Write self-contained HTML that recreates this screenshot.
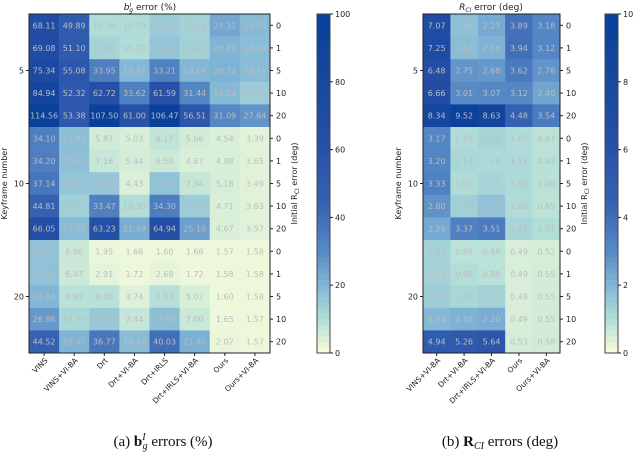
<!DOCTYPE html>
<html><head><meta charset="utf-8"><style>
body{margin:0;background:#fff;font-family:"Liberation Sans","DejaVu Sans",sans-serif}
svg text{font-family:"DejaVu Sans","Liberation Sans",sans-serif}
</style></head><body>
<svg id="s" width="640" height="460"></svg>
<script>
const colsA=["VINS","VINS+VI-BA","Drt","Drt+VI-BA","Drt+IRLS","Drt+IRLS+VI-BA","Ours","Ours+VI-BA"];
const colsB=["VINS+VI-BA","Drt+VI-BA","Drt+IRLS+VI-BA","Ours","Ours+VI-BA"];
const rowTicks=["0","1","5","10","20","0","1","5","10","20","0","1","5","10","20"];
const keyTicks=[[2,"5"],[7,"10"],[12,"20"]];
const valsA=[
[68.11,49.89,10.39,10.39,14.66,13.19,23.31,19.09],
[69.08,51.10,12.61,10.29,16.50,13.43,20.49,18.59],
[75.34,55.08,33.95,19.47,33.21,19.64,20.72,18.41],
[84.94,52.32,62.72,33.62,61.59,31.44,19.14,14.62],
[114.56,53.38,107.50,61.00,106.47,56.51,31.09,27.64],
[34.10,17.83,5.87,5.03,8.17,5.66,4.54,3.39],
[34.20,17.42,7.16,5.44,6.50,4.67,4.98,3.65],
[37.14,16.11,16.13,4.43,17.27,7.34,5.18,3.49],
[44.81,13.87,33.47,10.30,34.30,14.59,4.71,3.63],
[66.05,18.80,63.23,21.99,64.94,25.10,4.67,3.57],
[16.97,6.80,1.95,1.66,1.60,1.66,1.57,1.58],
[17.13,6.47,2.91,1.72,2.68,1.72,1.58,1.58],
[20.04,8.89,9.20,3.74,9.57,5.02,1.60,1.58],
[26.86,11.75,15.23,7.44,17.88,7.00,1.65,1.57],
[44.52,20.42,36.77,18.43,40.03,21.40,2.02,1.57]];
const valsB=[
[7.07,1.76,2.27,3.89,3.18],[7.25,1.82,2.06,3.94,3.12],[6.48,2.75,2.68,3.62,2.78],
[6.66,3.01,3.07,3.12,2.40],[8.34,9.52,8.63,4.48,3.54],[3.17,1.07,1.26,1.07,0.87],
[3.20,1.17,1.10,1.11,0.92],[3.33,1.05,1.25,1.10,0.90],[2.80,1.38,1.69,1.06,0.85],
[2.29,3.37,3.51,1.23,1.01],[1.31,0.89,0.88,0.49,0.52],[1.29,0.99,0.89,0.49,0.55],
[1.41,1.18,1.29,0.49,0.55],[1.94,2.10,2.20,0.49,0.55],[4.94,5.26,5.64,0.53,0.58]];
const cbA=[0,20,40,60,80,100], cbB=[0,2,4,6,8,10];
const stops=[[0,[247,252,220]],[0.05,[215,238,216]],[0.1,[178,222,216]],[0.2,[130,182,214]],[0.3,[88,138,198]],[0.45,[52,96,178]],[0.65,[36,78,166]],[1,[8,64,154]]];
function cmap(t){t=Math.max(0,Math.min(1,t));for(let i=1;i<stops.length;i++){if(t<=stops[i][0]){const a=stops[i-1],b=stops[i],f=(t-a[0])/(b[0]-a[0]);return`rgb(${a[1].map((v,k)=>Math.round(v+(b[1][k]-v)*f)).join(",")})`;}}return"rgb(8,64,154)";}
const S=document.getElementById('s'),NS="http://www.w3.org/2000/svg";
function el(t,a,txt){const e=document.createElementNS(NS,t);for(const k in a)e.setAttribute(k,a[k]);if(txt!=null)e.textContent=txt;S.appendChild(e);return e;}
function heat(cfg){
 const {x0,x1,y0,y1,cols,vals,vmax,cb,cbx,tag}=cfg;
 const cw=(x1-x0)/cols.length,rh=(y1-y0)/vals.length;
 const X=i=>x0+i*cw,Y=j=>y0+j*rh;
 vals.forEach((row,j)=>row.forEach((v,i)=>{
  const r=el('rect',{x:X(i),y:Y(j),width:cw+0.3,height:rh+0.3,fill:cmap(v/vmax)});
  
  const t=el('text',{x:X(i)+cw/2,y:Y(j)+rh/2+3,'font-size':8,'text-anchor':'middle',fill:'#bdbdbd'},v.toFixed(2));
  
 }));
 el('rect',{x:x0,y:y0,width:x1-x0,height:y1-y0,fill:'none',stroke:'#222','stroke-width':1});
 keyTicks.forEach(([j,l])=>{el('line',{x1:x0-3,x2:x0,y1:Y(j)+rh/2,y2:Y(j)+rh/2,stroke:'#222'});
  const t=el('text',{x:x0-5,y:Y(j)+rh/2+3,'font-size':8,'text-anchor':'end',fill:'#222'},l);});
 const yl=el('text',{transform:`translate(${x0-22},${(y0+y1)/2}) rotate(-90)`,'font-size':8,'text-anchor':'middle',fill:'#222'},'Keyframe number');
 
 rowTicks.forEach((l,j)=>{el('line',{x1:x1,x2:x1+3,y1:Y(j)+rh/2,y2:Y(j)+rh/2,stroke:'#222'});
  const t=el('text',{x:x1+6,y:Y(j)+rh/2+3,'font-size':8,fill:'#222'},l);});
 const rl=el('text',{transform:`translate(${x1+27},${(y0+y1)/2}) rotate(-90)`,'font-size':8,'text-anchor':'middle',fill:'#222'});
 rl.innerHTML='Initial R<tspan font-size="6" dy="2">CI</tspan><tspan dy="-2"> error (deg)</tspan>';
 
 cols.forEach((c,i)=>{const cx=X(i)+cw/2;el('line',{x1:cx,x2:cx,y1:y1,y2:y1+3,stroke:'#222'});
  const t=el('text',{transform:`translate(${cx+4},${y1+8}) rotate(-45)`,'font-size':7.5,'text-anchor':'end',fill:'#222'},c);
  });
 const n=60,h=(y1-y0)/n;
 for(let k=0;k<n;k++)el('rect',{x:cbx,y:y1-(k+1)*h,width:13,height:h+0.4,fill:cmap((k+0.5)/n)});
 const cbr=el('rect',{x:cbx,y:y0,width:13,height:y1-y0,fill:'none',stroke:'#444'});
 
 cb.forEach(v=>{const yy=y1-(v/vmax)*(y1-y0);el('line',{x1:cbx+13,x2:cbx+16,y1:yy,y2:yy,stroke:'#222'});
  const t=el('text',{x:cbx+18,y:yy+3,'font-size':8,fill:'#222'},v);});
}
heat({x0:29,x1:270,y0:14,y1:353,cols:colsA,vals:valsA,vmax:100,cb:cbA,cbx:317,tag:'a'});
heat({x0:423,x1:560,y0:14,y1:353,cols:colsB,vals:valsB,vmax:10,cb:cbB,cbx:605,tag:'b'});
let t1=el('text',{x:150,y:10,'font-size':9,'text-anchor':'middle',fill:'#222'});t1.innerHTML='<tspan font-style="italic">b</tspan><tspan font-size="6" dy="-3" font-style="italic">I</tspan><tspan font-size="6" dy="5" dx="-2" font-style="italic">g</tspan><tspan dy="-2"> error (%)</tspan>';

let t2=el('text',{x:491,y:10,'font-size':9,'text-anchor':'middle',fill:'#222'});t2.innerHTML='<tspan font-style="italic">R</tspan><tspan font-size="6" dy="2" font-style="italic">CI</tspan><tspan dy="-2"> error (deg)</tspan>';

let c1=el('text',{x:163,y:446,'font-size':15,'text-anchor':'middle',fill:'#111'});
c1.innerHTML='<tspan font-family="Liberation Serif">(a) </tspan><tspan font-weight="bold" font-family="Liberation Serif">b</tspan><tspan font-size="10" dy="-6" font-style="italic" font-family="Liberation Serif">I</tspan><tspan font-size="10" dy="9" dx="-3" font-family="Liberation Serif" font-style="italic">g</tspan><tspan dy="-3" font-family="Liberation Serif"> errors (%)</tspan>';

let c2=el('text',{x:500,y:446,'font-size':15,'text-anchor':'middle',fill:'#111'});
c2.innerHTML='<tspan font-family="Liberation Serif">(b) </tspan><tspan font-weight="bold" font-family="Liberation Serif">R</tspan><tspan font-size="10" dy="3" font-style="italic" font-family="Liberation Serif">CI</tspan><tspan dy="-3" font-family="Liberation Serif"> errors (deg)</tspan>';

</script>
</body></html>
